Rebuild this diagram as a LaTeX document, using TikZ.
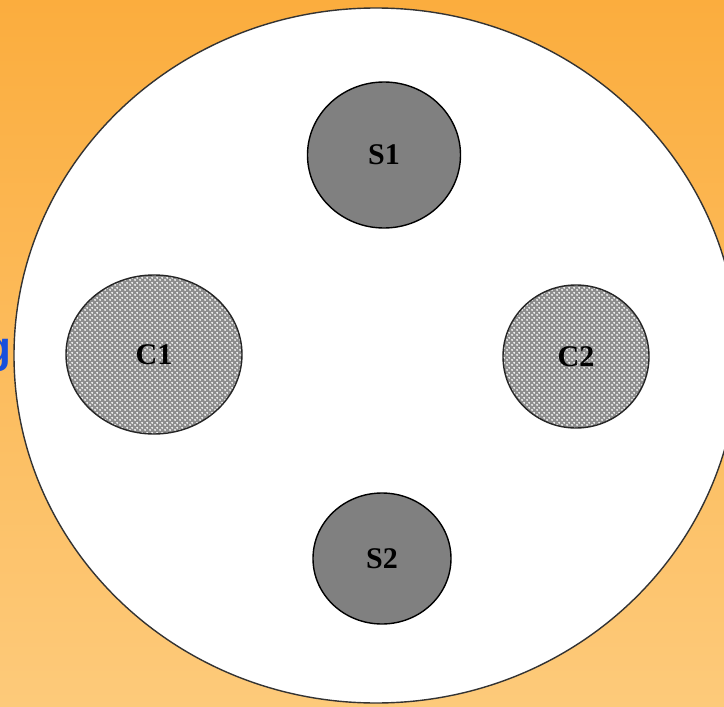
\documentclass[tikz,border=0pt]{standalone}
\usepackage{fontspec}
\setmainfont{Liberation Serif}
\newfontfamily\labelsans{Liberation Sans}
\usetikzlibrary{patterns}
\pgfdeclarepatternformonly{coarsedots}{\pgfpointorigin}{\pgfpoint{4.6pt}{4.6pt}}{\pgfpoint{4.6pt}{4.6pt}}{
  \pgfpathcircle{\pgfpoint{1.15pt}{1.15pt}}{1.1pt}
  \pgfpathcircle{\pgfpoint{3.45pt}{3.45pt}}{1.1pt}
  \pgfusepath{fill}}
\definecolor{bgtop}{RGB}{251,173,62}
\definecolor{bgbot}{RGB}{253,202,122}
\definecolor{sgray}{RGB}{128,128,128}
\definecolor{cgray}{RGB}{140,140,140}
\definecolor{gblue}{RGB}{25,80,220}
\tikzset{
  solidcirc/.style={draw=black, line width=1.4pt, fill=sgray},
  ringline/.style={draw=black!85, line width=1.4pt},
  lbl/.style={font=\fontsize{30}{30}\selectfont\bfseries, text=black}
}
\begin{document}
\begin{tikzpicture}[x=1pt,y=-1pt]
  \useasboundingbox (0,0) rectangle (724,707);
  \shade[top color=bgtop, bottom color=bgbot] (0,0) rectangle (724,707);
  \node[anchor=base east, inner sep=0pt, text=gblue, font=\labelsans\fontsize{44}{44}\selectfont\bfseries] (frag) at (12,362) {g};
  \draw[line width=1.4pt, draw=black!80, fill=white] (376,355.5) ellipse [x radius=362, y radius=347.5];
  % solid circles
  \draw[solidcirc] (384,155) ellipse [x radius=76.5, y radius=73];
  \node[lbl] (S1) at (384,155) {S1};
  \draw[solidcirc] (382,558.5) ellipse [x radius=69, y radius=65.5];
  \node[lbl] (S2) at (382,558.5) {S2};
  % dotted circles
  \fill[cgray] (154,354.5) ellipse [x radius=88, y radius=79.5];
  \fill[pattern=coarsedots, pattern color=white!95!gray] (154,354.5) ellipse [x radius=88, y radius=79.5];
  \draw[ringline] (154,354.5) ellipse [x radius=88, y radius=79.5];
  \node[lbl] (C1) at (154,354.5) {C1};
  \fill[cgray] (576,356.5) ellipse [x radius=73, y radius=71.5];
  \fill[pattern=coarsedots, pattern color=white!95!gray] (576,356.5) ellipse [x radius=73, y radius=71.5];
  \draw[ringline] (576,356.5) ellipse [x radius=73, y radius=71.5];
  \node[lbl] (C2) at (576,356.5) {C2};
\end{tikzpicture}
\end{document}
